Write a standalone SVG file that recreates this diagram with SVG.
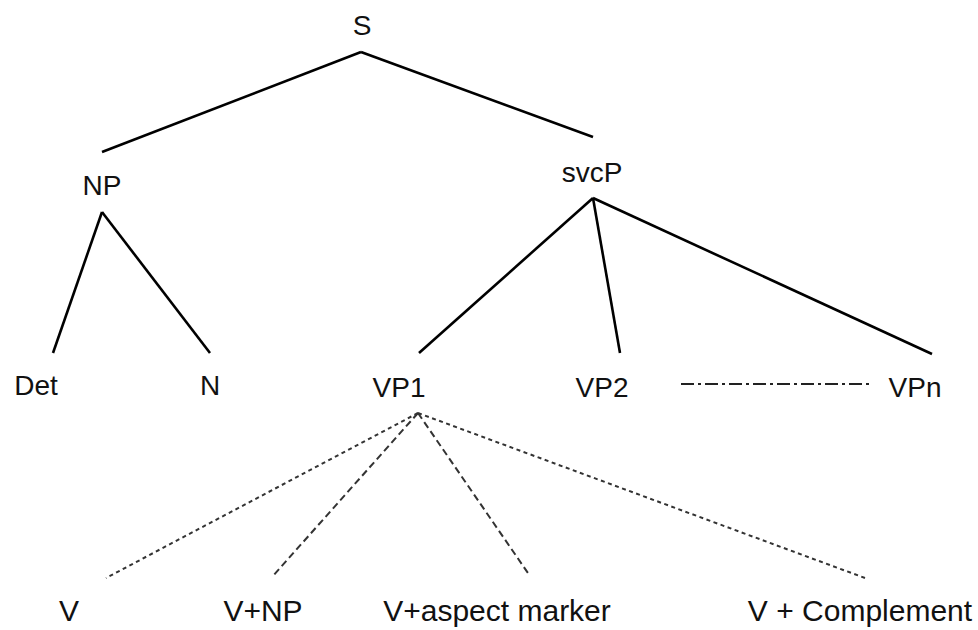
<svg xmlns="http://www.w3.org/2000/svg" width="978" height="630" viewBox="0 0 978 630">
  <style>
    .lbl { font-family: "Liberation Sans", Arial, Helvetica, sans-serif; font-size: 28px; fill: #111; text-anchor: middle; }
    .leaf { font-size: 30px; }
    .edge { stroke: #000; stroke-width: 2.6; fill: none; stroke-linecap: butt; }
    .dash-short { stroke: #333; stroke-width: 2; fill: none; stroke-dasharray: 4 3.5; }
    .dash-long { stroke: #333; stroke-width: 2; fill: none; stroke-dasharray: 7 4; }
    .dashdot { stroke: #222; stroke-width: 2; fill: none; stroke-dasharray: 13 4 3 4; }
  </style>
  <rect width="978" height="630" fill="#fff"/>

  <g id="connectors">
    <!-- S -->
    <line class="edge" x1="361" y1="52" x2="102" y2="152"/>
    <line class="edge" x1="361" y1="52" x2="593" y2="137"/>
    <!-- NP -->
    <line class="edge" x1="102" y1="212" x2="53" y2="353"/>
    <line class="edge" x1="102" y1="212" x2="210" y2="353"/>
    <!-- svcP -->
    <line class="edge" x1="593" y1="198" x2="419" y2="353"/>
    <line class="edge" x1="593" y1="198" x2="620" y2="353"/>
    <line class="edge" x1="593" y1="198" x2="932" y2="354"/>
    <!-- VP2 ... VPn -->
    <line class="dashdot" x1="681" y1="384" x2="870" y2="384"/>
    <!-- VP1 expansions -->
    <line class="dash-short" x1="418" y1="413" x2="106" y2="578"/>
    <line class="dash-long" x1="418" y1="413" x2="272" y2="577"/>
    <line class="dash-long" x1="418" y1="413" x2="530" y2="576"/>
    <line class="dash-short" x1="418" y1="413" x2="865" y2="578"/>
  </g>

  <g id="node-S"><text class="lbl" x="362" y="35">S</text></g>
  <g id="node-NP"><text class="lbl" x="102" y="195">NP</text></g>
  <g id="node-svcP"><text class="lbl" x="592" y="182">svcP</text></g>
  <g id="node-Det"><text class="lbl" x="36" y="395">Det</text></g>
  <g id="node-N"><text class="lbl" x="210" y="395">N</text></g>
  <g id="node-VP1"><text class="lbl" x="399" y="397">VP1</text></g>
  <g id="node-VP2"><text class="lbl" x="602" y="397">VP2</text></g>
  <g id="node-VPn"><text class="lbl" x="915" y="397">VPn</text></g>
  <g id="node-V"><text class="lbl leaf" x="69" y="621">V</text></g>
  <g id="node-V-NP"><text class="lbl leaf" x="263" y="621">V+NP</text></g>
  <g id="node-V-aspect"><text class="lbl leaf" x="497" y="621">V+aspect marker</text></g>
  <g id="node-V-complement"><text class="lbl leaf" x="860" y="621">V + Complement</text></g>
</svg>
